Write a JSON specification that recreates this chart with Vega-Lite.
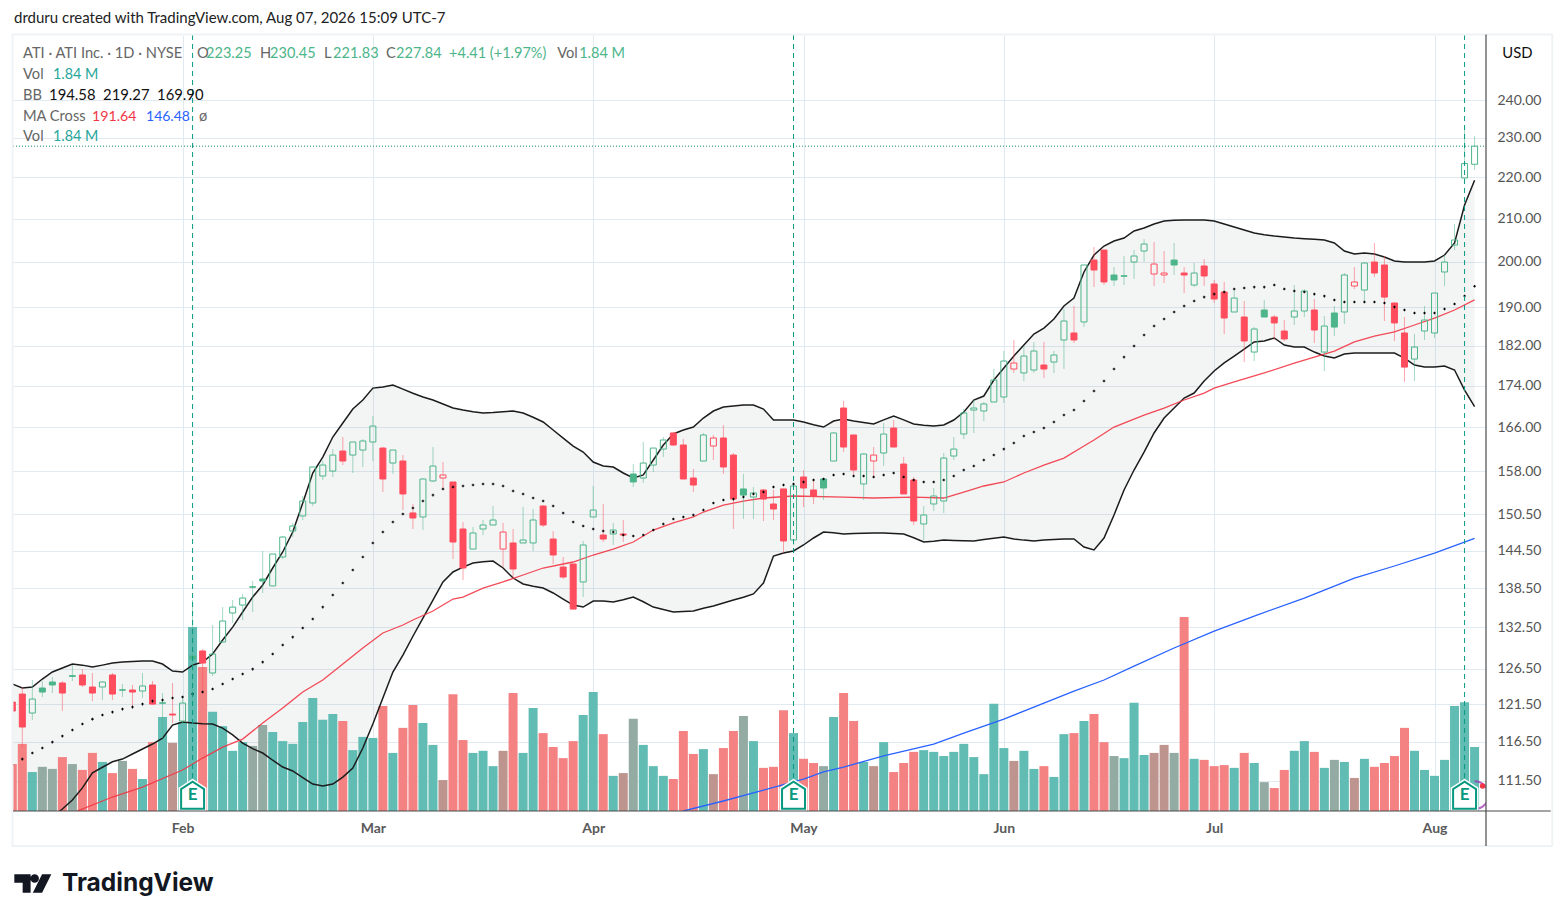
{
"$schema":"https://vega.github.io/schema/vega-lite/v6.json",
"width":1473,"height":776,
"autosize":{"type":"none"},
"padding":{"left":13,"top":35,"right":78,"bottom":110},
"background":"#ffffff",
"config":{"view":{"stroke":null},"font":"Lato"},
"datasets":{
"days":[
{"i":-1,"o":121.83,"h":122.1,"l":120.06,"c":120.6,"d":"down","v":1.35,"s":"down","m":113.48,"u":124.33,"b":102.6},
{"i":0,"o":122.93,"h":123.91,"l":115.68,"c":118.45,"d":"down","v":1.93,"s":"down","m":114.25,"u":123.77,"b":103.6},
{"i":1,"o":120.33,"h":124.89,"l":119.38,"c":122.24,"d":"up","v":1.12,"s":"up","m":115.03,"u":123.91,"b":104.67},
{"i":2,"o":123.77,"h":124.75,"l":122.52,"c":123.21,"d":"up","v":1.27,"s":"up_thin","m":115.68,"u":125.03,"b":105.8},
{"i":3,"o":124.61,"h":125.31,"l":123.07,"c":124.19,"d":"up","v":1.21,"s":"up_thin","m":116.46,"u":126.02,"b":107},
{"i":4,"o":124.47,"h":124.75,"l":120.6,"c":123.07,"d":"down","v":1.55,"s":"down","m":117.25,"u":126.58,"b":108},
{"i":5,"o":125.5,"h":127,"l":124.75,"c":125.4,"d":"up","v":1.35,"s":"up_thin","m":118.05,"u":127.16,"b":109.1},
{"i":6,"o":125.6,"h":126.44,"l":123.91,"c":124.19,"d":"down","v":1.18,"s":"down","m":118.85,"u":127,"b":110.6},
{"i":7,"o":123.91,"h":125.88,"l":121.96,"c":123.07,"d":"down","v":1.67,"s":"down","m":119.51,"u":126.72,"b":112.48},
{"i":8,"o":123.91,"h":124.75,"l":122.1,"c":124.61,"d":"up","v":1.41,"s":"up","m":120.06,"u":127,"b":113.2},
{"i":9,"o":125.6,"h":125.88,"l":122.1,"c":122.93,"d":"down","v":1.09,"s":"down","m":120.46,"u":127.3,"b":113.9},
{"i":10,"o":123.52,"h":124.33,"l":122.52,"c":123.47,"d":"up","v":1.44,"s":"up_thin","m":120.87,"u":127.44,"b":114.25},
{"i":11,"o":123.49,"h":124.19,"l":121,"c":123.21,"d":"down","v":1.21,"s":"down","m":121.14,"u":127.52,"b":114.9},
{"i":12,"o":123.35,"h":125.88,"l":122.38,"c":124.05,"d":"up","v":0.92,"s":"up","m":121.55,"u":127.59,"b":115.55},
{"i":13,"o":124.19,"h":124.75,"l":121.42,"c":121.55,"d":"down","v":1.98,"s":"down","m":121.96,"u":127.59,"b":116.2},
{"i":14,"o":121.72,"h":123.07,"l":116.98,"c":121.67,"d":"up","v":2.7,"s":"up","m":122.1,"u":127.16,"b":116.98},
{"i":15,"o":120.19,"h":124.47,"l":118.98,"c":120.06,"d":"down","v":1.96,"s":"down_thin","m":122.38,"u":126.16,"b":118.7},
{"i":16,"o":119.25,"h":122.52,"l":118.85,"c":121.69,"d":"up","v":2.56,"s":"up","m":122.52,"u":126.02,"b":119.12},
{"i":17,"o":128.3,"h":136.66,"l":122.1,"c":127.87,"d":"up","v":5.29,"s":"up","m":122.93,"u":127,"b":118.98},
{"i":18,"o":129.04,"h":129.33,"l":123.07,"c":127.3,"d":"down","v":4.14,"s":"down","m":123.21,"u":127.44,"b":118.9},
{"i":19,"o":125.88,"h":132.87,"l":125.45,"c":128.6,"d":"up","v":2.85,"s":"up","m":123.63,"u":128.6,"b":118.85},
{"i":20,"o":130.35,"h":135.58,"l":130.35,"c":133.47,"d":"up","v":2.44,"s":"up","m":124.33,"u":130.64,"b":118.31},
{"i":21,"o":134.68,"h":136.66,"l":133.17,"c":135.58,"d":"up","v":1.73,"s":"up","m":125.03,"u":132.56,"b":117.4},
{"i":22,"o":135.89,"h":137.6,"l":133.62,"c":136.97,"d":"up","v":1.98,"s":"up","m":125.74,"u":134.83,"b":116.33},
{"i":23,"o":138.72,"h":139.62,"l":134.83,"c":138.64,"d":"up","v":1.87,"s":"up_thin","m":126.44,"u":137.12,"b":115.6},
{"i":24,"o":139.94,"h":144.42,"l":137.75,"c":139.62,"d":"up","v":2.47,"s":"up_thin","m":127.44,"u":139,"b":115.03},
{"i":25,"o":138.85,"h":143.93,"l":138.85,"c":143.93,"d":"up","v":2.27,"s":"up","m":128.6,"u":141.68,"b":114.1},
{"i":26,"o":143.45,"h":146.88,"l":143.12,"c":146.71,"d":"up","v":2.01,"s":"up","m":129.91,"u":144.26,"b":113.23},
{"i":27,"o":147.71,"h":149.05,"l":146.71,"c":148.54,"d":"up","v":1.93,"s":"up","m":131.08,"u":147.54,"b":112.73},
{"i":28,"o":150.23,"h":153.63,"l":149.55,"c":152.78,"d":"up","v":2.56,"s":"up","m":132.42,"u":152.44,"b":111.9},
{"i":29,"o":152.44,"h":158.75,"l":151.92,"c":158.75,"d":"up","v":3.25,"s":"up","m":133.77,"u":157.68,"b":111.08},
{"i":30,"o":157.15,"h":159.82,"l":156.44,"c":159.1,"d":"up","v":2.62,"s":"up","m":135.58,"u":160.54,"b":110.83},
{"i":31,"o":158.03,"h":161.99,"l":156.97,"c":160.9,"d":"up","v":2.79,"s":"up","m":137.43,"u":164.2,"b":111.08},
{"i":32,"o":161.63,"h":164.2,"l":159.1,"c":159.82,"d":"down","v":2.59,"s":"down","m":139.31,"u":166.81,"b":111.96},
{"i":33,"o":160.9,"h":163.28,"l":157.68,"c":163.28,"d":"up","v":1.75,"s":"up","m":141.36,"u":169.46,"b":113.1},
{"i":34,"o":161.81,"h":163.83,"l":158.75,"c":163.47,"d":"up","v":2.13,"s":"up","m":143.45,"u":171.19,"b":115.68},
{"i":35,"o":163.28,"h":168.12,"l":159.82,"c":166.25,"d":"up","v":2.1,"s":"up","m":145.73,"u":173.5,"b":118.85},
{"i":36,"o":162.17,"h":162.36,"l":154.34,"c":156.62,"d":"down","v":3.02,"s":"down","m":147.54,"u":173.7,"b":122.38},
{"i":37,"o":159.46,"h":161.81,"l":157.5,"c":161.81,"d":"up","v":1.67,"s":"up","m":149.21,"u":174.1,"b":126.02},
{"i":38,"o":159.82,"h":160.9,"l":151.24,"c":154,"d":"down","v":2.39,"s":"down","m":150.57,"u":173.31,"b":128.45},
{"i":39,"o":150.74,"h":152.27,"l":148.04,"c":149.89,"d":"down","v":3.05,"s":"down","m":151.58,"u":172.5,"b":131.2},
{"i":40,"o":150.06,"h":156.79,"l":147.87,"c":156.62,"d":"up","v":2.53,"s":"up","m":152.78,"u":171.77,"b":133.92},
{"i":41,"o":156.27,"h":162.36,"l":156.09,"c":158.92,"d":"up","v":1.9,"s":"up","m":153.81,"u":171.19,"b":136.66},
{"i":42,"o":156.79,"h":159.64,"l":154.69,"c":157.33,"d":"down","v":0.89,"s":"down_thin","m":154.87,"u":170.43,"b":139.47},
{"i":43,"o":156.09,"h":156.09,"l":143.12,"c":145.89,"d":"down","v":3.36,"s":"down","m":155.21,"u":169.65,"b":141.05},
{"i":44,"o":148.04,"h":149.21,"l":139.78,"c":141.68,"d":"down","v":2.04,"s":"down","m":155.39,"u":169.27,"b":141.83},
{"i":45,"o":144.74,"h":148.37,"l":144.74,"c":147.38,"d":"up","v":1.67,"s":"up","m":155.56,"u":168.95,"b":142.48},
{"i":46,"o":148.04,"h":149.55,"l":147.04,"c":148.71,"d":"up","v":1.73,"s":"up","m":155.74,"u":168.7,"b":142.7},
{"i":47,"o":148.71,"h":151.92,"l":148.71,"c":149.55,"d":"up","v":1.29,"s":"up","m":155.74,"u":168.8,"b":142.8},
{"i":48,"o":144.74,"h":149.05,"l":141.83,"c":147.54,"d":"down","v":1.73,"s":"down_thin","m":155.39,"u":168.95,"b":141.68},
{"i":49,"o":145.73,"h":148.04,"l":140.09,"c":141.52,"d":"down","v":3.39,"s":"down","m":154.52,"u":169.08,"b":140.09},
{"i":50,"o":145.73,"h":151.75,"l":145.73,"c":146.22,"d":"up","v":1.67,"s":"up","m":154,"u":168.7,"b":139.15},
{"i":51,"o":145.73,"h":151.41,"l":144.42,"c":149.55,"d":"up","v":2.96,"s":"up","m":153.3,"u":167.9,"b":138.8},
{"i":52,"o":151.92,"h":152.09,"l":148.37,"c":148.71,"d":"down","v":2.24,"s":"down","m":152.78,"u":167,"b":138.52},
{"i":53,"o":146.38,"h":147.71,"l":142.32,"c":143.77,"d":"down","v":1.84,"s":"down","m":151.92,"u":165.5,"b":137.75},
{"i":54,"o":141.83,"h":143.45,"l":139.94,"c":140.25,"d":"down","v":1.52,"s":"down","m":150.74,"u":164,"b":136.8},
{"i":55,"o":142.32,"h":142.32,"l":135.28,"c":135.28,"d":"down","v":2.01,"s":"down","m":149.21,"u":162.54,"b":135.89},
{"i":56,"o":139.47,"h":146.06,"l":137.12,"c":145.4,"d":"up","v":2.76,"s":"up","m":148.54,"u":161.45,"b":135.58},
{"i":57,"o":150.06,"h":155.39,"l":150.06,"c":151.24,"d":"up","v":3.42,"s":"up","m":148.04,"u":159.64,"b":136.5},
{"i":58,"o":147.04,"h":152.27,"l":145.89,"c":146.38,"d":"down","v":2.21,"s":"down","m":147.71,"u":158.92,"b":136.5},
{"i":59,"o":147.21,"h":149.05,"l":145.4,"c":147.87,"d":"up","v":1.01,"s":"up","m":147.54,"u":158.75,"b":136.35},
{"i":60,"o":147.21,"h":149.55,"l":145.89,"c":147.04,"d":"down","v":1.09,"s":"down_thin","m":147.04,"u":157.68,"b":136.7},
{"i":61,"o":157.5,"h":159.28,"l":155.21,"c":156.09,"d":"up","v":2.65,"s":"up_thin","m":146.88,"u":156.79,"b":137.12},
{"i":62,"o":156.79,"h":163.28,"l":155.92,"c":159.46,"d":"up","v":1.9,"s":"up","m":147.04,"u":157.33,"b":136.4},
{"i":63,"o":159.1,"h":162.17,"l":157.86,"c":162.17,"d":"up","v":1.29,"s":"up","m":147.87,"u":160,"b":135.58},
{"i":64,"o":161.99,"h":164.2,"l":160.54,"c":163.65,"d":"up","v":1.01,"s":"up","m":148.88,"u":162.73,"b":135.2},
{"i":65,"o":164.95,"h":165.13,"l":162.54,"c":162.73,"d":"down","v":0.92,"s":"down","m":149.72,"u":164.76,"b":134.83},
{"i":66,"o":162.73,"h":163.83,"l":156.62,"c":156.62,"d":"down","v":2.3,"s":"down","m":150.06,"u":165.5,"b":134.9},
{"i":67,"o":156.79,"h":158.39,"l":154.34,"c":155.56,"d":"down","v":1.64,"s":"down","m":150.4,"u":166.06,"b":134.98},
{"i":68,"o":159.82,"h":164.95,"l":159.82,"c":164.58,"d":"up","v":1.78,"s":"up","m":151.24,"u":167.75,"b":135.4},
{"i":69,"o":162.54,"h":164.58,"l":160,"c":164.02,"d":"down","v":1.06,"s":"down_thin","m":152.44,"u":169.08,"b":135.74},
{"i":70,"o":164.02,"h":166.43,"l":157.5,"c":158.75,"d":"down","v":1.81,"s":"down","m":152.95,"u":169.84,"b":136.2},
{"i":71,"o":160.9,"h":161.27,"l":148.04,"c":153.12,"d":"down","v":2.3,"s":"down","m":153.12,"u":170.03,"b":136.66},
{"i":72,"o":154.87,"h":157.5,"l":149.72,"c":153.81,"d":"up","v":2.73,"s":"up_thin","m":153.47,"u":170.23,"b":137.1},
{"i":73,"o":153.47,"h":155.21,"l":149.72,"c":154.17,"d":"up","v":2.01,"s":"up","m":154,"u":170.23,"b":137.6},
{"i":74,"o":154.69,"h":154.87,"l":149.38,"c":153.12,"d":"down","v":1.24,"s":"down","m":154.34,"u":169.46,"b":139.31},
{"i":75,"o":152.27,"h":154.69,"l":149.55,"c":151.41,"d":"down","v":1.27,"s":"down","m":155.21,"u":167.37,"b":143.61},
{"i":76,"o":154.87,"h":154.87,"l":144.09,"c":146.06,"d":"down","v":2.9,"s":"down","m":155.56,"u":167.37,"b":144.1},
{"i":77,"o":146.22,"h":155.74,"l":145.4,"c":155.39,"d":"up","v":2.24,"s":"up","m":155.74,"u":167.37,"b":144.42},
{"i":78,"o":156.97,"h":158.21,"l":151.75,"c":155.04,"d":"down","v":1.5,"s":"down","m":156.09,"u":167,"b":145.4},
{"i":79,"o":154.69,"h":156.62,"l":152.27,"c":153.65,"d":"down","v":1.38,"s":"down","m":156.44,"u":166.5,"b":146.55},
{"i":80,"o":156.62,"h":156.79,"l":152.95,"c":155.04,"d":"up","v":1.29,"s":"up_thin","m":156.62,"u":166.06,"b":147.54},
{"i":81,"o":159.82,"h":165.13,"l":159.82,"c":164.95,"d":"up","v":2.7,"s":"up","m":157.33,"u":167.18,"b":147.4},
{"i":82,"o":169.65,"h":171,"l":161.45,"c":162.36,"d":"down","v":3.39,"s":"down","m":157.5,"u":167.56,"b":147.21},
{"i":83,"o":164.58,"h":164.58,"l":157.33,"c":158.21,"d":"down","v":2.59,"s":"down","m":157.15,"u":167.2,"b":147.3},
{"i":84,"o":155.74,"h":161.27,"l":152.95,"c":161.09,"d":"up","v":1.41,"s":"up","m":157.15,"u":166.9,"b":147.35},
{"i":85,"o":159.82,"h":162.36,"l":156.79,"c":160.9,"d":"down","v":1.29,"s":"down_thin","m":156.97,"u":166.62,"b":147.38},
{"i":86,"o":161.27,"h":166.81,"l":158.92,"c":164.76,"d":"up","v":1.98,"s":"up","m":157.33,"u":167.4,"b":147.38},
{"i":87,"o":165.87,"h":167.37,"l":162.36,"c":162.36,"d":"down","v":1.12,"s":"down","m":157.68,"u":168.12,"b":147.3},
{"i":88,"o":159.28,"h":160.54,"l":154,"c":154,"d":"down","v":1.38,"s":"down","m":156.97,"u":167.4,"b":147.21},
{"i":89,"o":156.44,"h":156.97,"l":148.71,"c":149.38,"d":"down","v":1.7,"s":"down","m":156.44,"u":166.62,"b":146.6},
{"i":90,"o":148.88,"h":151.92,"l":146.22,"c":150.4,"d":"up","v":1.75,"s":"up","m":156.09,"u":166.4,"b":145.89},
{"i":91,"o":152.27,"h":155.04,"l":151.07,"c":153.65,"d":"up","v":1.7,"s":"up","m":156.09,"u":166.25,"b":146},
{"i":92,"o":152.78,"h":161.27,"l":150.74,"c":160.36,"d":"up","v":1.58,"s":"up","m":156.44,"u":166.43,"b":146.22},
{"i":93,"o":160.72,"h":164.2,"l":160,"c":161.99,"d":"up","v":1.7,"s":"up","m":157.15,"u":167.37,"b":146.15},
{"i":94,"o":164.76,"h":169.46,"l":163.83,"c":168.7,"d":"up","v":1.93,"s":"up","m":158.21,"u":168.89,"b":146.1},
{"i":95,"o":169.27,"h":171.19,"l":164.95,"c":169.65,"d":"up","v":1.55,"s":"up","m":158.92,"u":171.19,"b":146.06},
{"i":96,"o":169.08,"h":170.81,"l":167.18,"c":170.43,"d":"up","v":1.06,"s":"up","m":160,"u":171.96,"b":146.3},
{"i":97,"o":170.81,"h":177.27,"l":170.81,"c":175.09,"d":"up","v":3.08,"s":"up","m":160.9,"u":175.09,"b":146.5},
{"i":98,"o":171.77,"h":180.9,"l":170.62,"c":178.87,"d":"up","v":1.81,"s":"up","m":161.99,"u":177.47,"b":146.71},
{"i":99,"o":177.27,"h":183.16,"l":176.48,"c":178.47,"d":"down","v":1.44,"s":"down_thin","m":163.1,"u":179.88,"b":146.4},
{"i":100,"o":176.48,"h":181.92,"l":174.89,"c":179.88,"d":"up","v":1.73,"s":"up","m":164.39,"u":182.13,"b":146.2},
{"i":101,"o":177.07,"h":182.74,"l":176.48,"c":180.9,"d":"up","v":1.21,"s":"up","m":165.13,"u":184.4,"b":146.06},
{"i":102,"o":178.07,"h":182.74,"l":175.49,"c":177.27,"d":"down","v":1.29,"s":"down","m":165.87,"u":185.64,"b":146.2},
{"i":103,"o":178.67,"h":180.9,"l":176.48,"c":180.09,"d":"up","v":0.98,"s":"up","m":167,"u":187.54,"b":146.3},
{"i":104,"o":183.16,"h":189.66,"l":177.27,"c":187.12,"d":"up","v":2.21,"s":"up","m":168.32,"u":190.31,"b":146.38},
{"i":105,"o":184.61,"h":190.31,"l":182.54,"c":183.16,"d":"down","v":2.24,"s":"down","m":169.27,"u":192.02,"b":146.38},
{"i":106,"o":186.91,"h":199.3,"l":185.85,"c":199.3,"d":"up","v":2.59,"s":"up","m":171,"u":197.74,"b":145.07},
{"i":107,"o":200.42,"h":203.37,"l":194.41,"c":198.18,"d":"down","v":2.79,"s":"down","m":172.93,"u":201.55,"b":144.58},
{"i":108,"o":202.69,"h":202.69,"l":194.86,"c":195.52,"d":"down","v":1.98,"s":"down","m":174.89,"u":203.6,"b":146.55},
{"i":109,"o":197.07,"h":198.85,"l":194.64,"c":195.96,"d":"up","v":1.58,"s":"up_thin","m":177.27,"u":204.76,"b":150.4},
{"i":110,"o":196.9,"h":201.33,"l":194.86,"c":196.8,"d":"up","v":1.52,"s":"up","m":179.67,"u":205.45,"b":154.69},
{"i":111,"o":199.97,"h":202.69,"l":196.18,"c":201.33,"d":"up","v":3.11,"s":"up","m":181.92,"u":207.08,"b":158.21},
{"i":112,"o":202.46,"h":205.22,"l":199.97,"c":204.07,"d":"up","v":1.61,"s":"up","m":184.2,"u":207.77,"b":161.45},
{"i":113,"o":197.29,"h":204.53,"l":194.64,"c":199.52,"d":"down","v":1.67,"s":"down_thin","m":186.06,"u":208.72,"b":164.95},
{"i":114,"o":197.07,"h":202.46,"l":195.3,"c":197.51,"d":"down","v":1.9,"s":"down_thin","m":187.54,"u":209.43,"b":167.75},
{"i":115,"o":200.42,"h":204.3,"l":197.07,"c":199.3,"d":"up","v":1.67,"s":"up_thin","m":189.03,"u":209.6,"b":169.65},
{"i":116,"o":197.51,"h":198.85,"l":193.11,"c":197.07,"d":"down","v":5.58,"s":"down","m":190.31,"u":209.66,"b":171.57},
{"i":117,"o":194.86,"h":199.75,"l":194.41,"c":197.51,"d":"up","v":1.5,"s":"up","m":191.38,"u":209.66,"b":172.54},
{"i":118,"o":199.08,"h":200.64,"l":194.64,"c":196.85,"d":"down","v":1.47,"s":"down","m":192.23,"u":209.66,"b":174.89},
{"i":119,"o":195.08,"h":195.96,"l":190.95,"c":191.81,"d":"down","v":1.29,"s":"down","m":192.88,"u":209.43,"b":176.87},
{"i":120,"o":193.33,"h":195.52,"l":184.4,"c":187.75,"d":"down","v":1.32,"s":"down","m":193.33,"u":208.72,"b":178.5},
{"i":121,"o":189.03,"h":193.76,"l":189.03,"c":192.02,"d":"up","v":1.24,"s":"up","m":193.98,"u":208,"b":179.88},
{"i":122,"o":187.96,"h":191.38,"l":178.67,"c":182.95,"d":"down","v":1.67,"s":"down","m":194.2,"u":207.31,"b":181.3},
{"i":123,"o":180.69,"h":185.85,"l":178.87,"c":185.44,"d":"up","v":1.38,"s":"up","m":194.41,"u":206.61,"b":182.75},
{"i":124,"o":189.45,"h":191.59,"l":187.96,"c":187.96,"d":"up","v":0.83,"s":"up_thin","m":194.41,"u":206.2,"b":182.95},
{"i":125,"o":187.96,"h":188.39,"l":183.16,"c":186.71,"d":"down","v":0.66,"s":"down","m":194.86,"u":205.91,"b":183.58},
{"i":126,"o":185.02,"h":187.33,"l":182.95,"c":183.37,"d":"down","v":1.18,"s":"down","m":193.98,"u":205.7,"b":182.13},
{"i":127,"o":187.96,"h":194.86,"l":186.28,"c":189.24,"d":"up","v":1.73,"s":"up","m":193.54,"u":205.45,"b":181.71},
{"i":128,"o":189.24,"h":193.98,"l":187.96,"c":193.54,"d":"up","v":2.01,"s":"up","m":193.33,"u":205.3,"b":181.71},
{"i":129,"o":189.45,"h":191.81,"l":182.54,"c":185.23,"d":"down","v":1.7,"s":"down","m":192.88,"u":205.15,"b":180.69},
{"i":130,"o":180.69,"h":188.17,"l":176.87,"c":186.06,"d":"up","v":1.24,"s":"up","m":192.45,"u":204.99,"b":179.88},
{"i":131,"o":188.81,"h":190.31,"l":183.98,"c":185.85,"d":"up","v":1.47,"s":"up_thin","m":191.59,"u":204.3,"b":179.47},
{"i":132,"o":189.03,"h":197.51,"l":186.49,"c":197.07,"d":"up","v":1.41,"s":"up","m":191.17,"u":202.46,"b":180.29},
{"i":133,"o":194.64,"h":198.85,"l":193.98,"c":195.52,"d":"down","v":0.95,"s":"down_thin","m":191.17,"u":201.78,"b":180.49},
{"i":134,"o":193.76,"h":199.97,"l":191.17,"c":199.75,"d":"up","v":1.5,"s":"up","m":191.17,"u":202,"b":180.49},
{"i":135,"o":199.97,"h":204.3,"l":196.63,"c":197.51,"d":"down","v":1.27,"s":"down","m":191.17,"u":201.78,"b":180.49},
{"i":136,"o":199.3,"h":201.33,"l":187.12,"c":192.23,"d":"down","v":1.38,"s":"down","m":190.95,"u":201.1,"b":180.49},
{"i":137,"o":190.95,"h":190.95,"l":182.95,"c":186.71,"d":"down","v":1.58,"s":"down","m":190.09,"u":200.2,"b":180.49},
{"i":138,"o":184.61,"h":187.96,"l":174.7,"c":177.66,"d":"down","v":2.39,"s":"down","m":189.45,"u":200,"b":179.47},
{"i":139,"o":179.27,"h":184.4,"l":174.89,"c":181.71,"d":"up","v":1.73,"s":"up","m":188.81,"u":199.97,"b":178.07},
{"i":140,"o":185.02,"h":190.31,"l":183.16,"c":187.33,"d":"up","v":1.18,"s":"up","m":188.81,"u":200,"b":177.66},
{"i":141,"o":184.61,"h":193.11,"l":183.58,"c":193.11,"d":"up","v":1.01,"s":"up","m":188.81,"u":200.2,"b":177.66},
{"i":142,"o":197.74,"h":201.55,"l":194.64,"c":199.97,"d":"up","v":1.47,"s":"up","m":189.66,"u":201.55,"b":177.86},
{"i":143,"o":203.84,"h":208.72,"l":202.69,"c":204.99,"d":"up","v":3.02,"s":"up","m":190.74,"u":204.3,"b":177.07},
{"i":144,"o":219.82,"h":232.83,"l":219.32,"c":223.43,"d":"up","v":3.13,"s":"up","m":192.45,"u":213.23,"b":173.12},
{"i":145,"o":223.25,"h":230.45,"l":221.83,"c":227.84,"d":"up","v":1.84,"s":"up","m":194.58,"u":219.27,"b":169.9}
],
"ma50":[
{"i":5,"p":107.52},{"i":9,"p":109.47},{"i":12,"p":110.7},{"i":16,"p":112.85},{"i":18,"p":114.38},{"i":20,"p":115.8},{"i":22,"p":116.85},{"i":24,"p":118.98},{"i":26,"p":121},{"i":28,"p":123.21},{"i":30,"p":124.89},{"i":32,"p":127.16},{"i":34,"p":129.47},{"i":36,"p":131.68},{"i":38,"p":132.87},{"i":39,"p":133.62},{"i":41,"p":134.98},{"i":42,"p":135.89},{"i":43,"p":136.81},{"i":44,"p":137.12},{"i":46,"p":138.52},{"i":48,"p":139.47},{"i":50,"p":140.57},{"i":52,"p":141.68},{"i":54,"p":142.32},{"i":55,"p":142.64},{"i":57,"p":143.77},{"i":59,"p":144.74},{"i":61,"p":145.89},{"i":63,"p":147.87},{"i":65,"p":149.05},{"i":67,"p":150.06},{"i":68,"p":150.9},{"i":70,"p":152.09},{"i":72,"p":152.78},{"i":74,"p":153.3},{"i":77,"p":153.65},{"i":82,"p":153.47},{"i":85,"p":153.3},{"i":89,"p":153.47},{"i":92,"p":153.3},{"i":94,"p":154.34},{"i":96,"p":155.39},{"i":98,"p":156.09},{"i":100,"p":157.68},{"i":102,"p":159.1},{"i":104,"p":160.36},{"i":106,"p":162.54},{"i":107,"p":163.65},{"i":109,"p":166.06},{"i":112,"p":168.31},{"i":114,"p":169.65},{"i":116,"p":171.19},{"i":118,"p":172.54},{"i":119,"p":173.5},{"i":121,"p":174.7},{"i":124,"p":176.48},{"i":127,"p":178.47},{"i":129,"p":179.67},{"i":131,"p":180.9},{"i":133,"p":182.75},{"i":135,"p":183.98},{"i":137,"p":184.82},{"i":139,"p":186.28},{"i":141,"p":187.75},{"i":143,"p":189.45},{"i":145,"p":191.64}
],
"ma200":[
{"i":66,"p":107.76},{"i":70,"p":108.98},{"i":74,"p":110.33},{"i":78,"p":111.7},{"i":80,"p":112.6},{"i":82,"p":113.23},{"i":86,"p":114.65},{"i":91,"p":116.2},{"i":94,"p":117.65},{"i":98,"p":119.51},{"i":102,"p":121.69},{"i":105,"p":123.35},{"i":108,"p":124.89},{"i":111,"p":126.87},{"i":115,"p":129.47},{"i":119,"p":131.97},{"i":123,"p":134.22},{"i":128,"p":136.97},{"i":133,"p":140.09},{"i":137,"p":142},{"i":141,"p":144.09},{"i":145,"p":146.48}
],
"earnings":[{"i":17,"p":109.7},{"i":77,"p":109.7},{"i":144,"p":109.7}],
"labels":[
{"i":-0.83,"p":263.2,"t":"drduru created with TradingView.com, Aug 07, 2026 15:09 UTC-7","k":"head"},
{"i":0.07,"p":252.76,"t":"ATI · ATI Inc. · 1D · NYSE","k":"muted"},
{"i":17.45,"p":252.76,"t":"O","k":"muted"},{"i":18.35,"p":252.76,"t":"223.25","k":"up"},
{"i":23.74,"p":252.76,"t":"H","k":"muted"},{"i":24.74,"p":252.76,"t":"230.45","k":"up"},
{"i":30.13,"p":252.76,"t":"L","k":"muted"},{"i":31.03,"p":252.76,"t":"221.83","k":"up"},
{"i":36.32,"p":252.76,"t":"C","k":"muted"},{"i":37.32,"p":252.76,"t":"227.84","k":"up"},
{"i":42.61,"p":252.76,"t":"+4.41 (+1.97%)","k":"up"},
{"i":53.4,"p":252.76,"t":"Vol","k":"muted"},{"i":55.6,"p":252.76,"t":"1.84 M","k":"up"},
{"i":0.07,"p":246.8,"t":"Vol","k":"muted"},{"i":3.07,"p":246.8,"t":"1.84 M","k":"vol"},
{"i":0.07,"p":241.1,"t":"BB","k":"muted"},{"i":2.67,"p":241.1,"t":"194.58","k":"ink"},{"i":8.06,"p":241.1,"t":"219.27","k":"ink"},{"i":13.45,"p":241.1,"t":"169.90","k":"ink"},
{"i":0.07,"p":235.5,"t":"MA Cross","k":"muted"},{"i":6.96,"p":235.5,"t":"191.64","k":"ma50"},{"i":12.35,"p":235.5,"t":"146.48","k":"ma200"},{"i":17.65,"p":235.5,"t":"ø","k":"muted"},
{"i":0.07,"p":230.2,"t":"Vol","k":"muted"},{"i":3.07,"p":230.2,"t":"1.84 M","k":"vol"},
{"i":147.76,"p":252.76,"t":"USD","k":"ink"}
]
},
"encoding":{
"x":{"field":"i","type":"quantitative","scale":{"domain":[-0.93,146.14],"nice":false,"zero":false,"padding":0},
"axis":{"title":null,"values":[16,35,57,78,98,119,141],"labelExpr":"{'16':'Feb','35':'Mar','57':'Apr','78':'May','98':'Jun','119':'Jul','141':'Aug'}[datum.value+'']","grid":true,"gridColor":"#e2eaf1","gridWidth":1,"domain":false,"ticks":false,"labelPadding":10,"labelFontSize":14,"labelFontWeight":"bold","labelColor":"#5a5a5a","labelFlush":false,"labelFont":"Lato"}}
},
"layer":[
{"data":{"name":"days"},"mark":{"type":"area","clip":true,"color":"#4f5f55","opacity":0.065,"orient":"vertical"},
"encoding":{"y":{"field":"u","type":"quantitative","scale":{"type":"log","domain":[107.76,258.23],"nice":false},
"axis":{"title":null,"orient":"right","values":[240,230,220,210,200,190,182,174,166,158,150.5,144.5,138.5,132.5,126.5,121.5,116.5,111.5],"format":".2f","grid":true,"gridColor":"#e2eaf1","gridWidth":1,"domain":false,"ticks":false,"labelPadding":11,"labelFontSize":14,"labelColor":"#555555","labelFont":"Lato"}},"y2":{"field":"b"}}},
{"data":{"name":"days"},"mark":{"type":"bar","size":9,"orient":"vertical","clip":true,"opacity":0.97},
"encoding":{"y":{"field":"v","type":"quantitative","scale":{"domain":[0,22.31],"nice":false},"axis":null},
"color":{"field":"s","type":"nominal","scale":{"domain":["up","down","up_thin","down_thin"],"range":["#5cbab2","#f57e7e","#8fa8a0","#bc918b"]},"legend":null}}},
{"layer":[
{"data":{"values":[{"i":-0.93,"i2":146.14,"p":227.84}]},"mark":{"type":"rule","color":"#1f8f76","strokeDash":[1,2],"strokeWidth":1},
"encoding":{"x2":{"field":"i2"},"y":{"field":"p","type":"quantitative","scale":{"type":"log","domain":[107.76,258.23],"nice":false},"axis":null}}},
{"data":{"name":"days"},"mark":{"type":"line","clip":true,"color":"#1c1c1c","strokeWidth":1.5},
"encoding":{"y":{"field":"u","type":"quantitative","scale":{"type":"log","domain":[107.76,258.23],"nice":false},"axis":null}}},
{"data":{"name":"days"},"mark":{"type":"line","clip":true,"color":"#1c1c1c","strokeWidth":1.5},
"encoding":{"y":{"field":"b","type":"quantitative","scale":{"type":"log","domain":[107.76,258.23],"nice":false},"axis":null}}},
{"data":{"name":"ma50"},"mark":{"type":"line","clip":true,"color":"#f23645","strokeWidth":1.3,"opacity":0.9},
"encoding":{"y":{"field":"p","type":"quantitative","scale":{"type":"log","domain":[107.76,258.23],"nice":false},"axis":null}}},
{"data":{"name":"ma200"},"mark":{"type":"line","clip":true,"color":"#2962ff","strokeWidth":1.3},
"encoding":{"y":{"field":"p","type":"quantitative","scale":{"type":"log","domain":[107.76,258.23],"nice":false},"axis":null}}},
{"data":{"name":"days"},"mark":{"type":"rule","clip":true,"strokeWidth":1,"opacity":0.5},
"encoding":{"y":{"field":"h","type":"quantitative","scale":{"type":"log","domain":[107.76,258.23],"nice":false},"axis":null},"y2":{"field":"c"},
"stroke":{"field":"d","type":"nominal","scale":{"domain":["up","down"],"range":["#4cb58a","#ff4d5e"]},"legend":null}}},
{"data":{"name":"days"},"mark":{"type":"rule","clip":true,"strokeWidth":1,"opacity":0.5},
"encoding":{"y":{"field":"l","type":"quantitative","scale":{"type":"log","domain":[107.76,258.23],"nice":false},"axis":null},"y2":{"field":"o"},
"stroke":{"field":"d","type":"nominal","scale":{"domain":["up","down"],"range":["#4cb58a","#ff4d5e"]},"legend":null}}},
{"data":{"name":"days"},"mark":{"type":"bar","clip":true,"size":6,"strokeWidth":1},
"encoding":{"y":{"field":"o","type":"quantitative","scale":{"type":"log","domain":[107.76,258.23],"nice":false},"axis":null},"y2":{"field":"c"},
"stroke":{"field":"d","type":"nominal","scale":{"domain":["up","down"],"range":["#4cb58a","#ff4d5e"]},"legend":null},
"fill":{"condition":{"test":"datum.c>=datum.o","value":"transparent"},"field":"d","type":"nominal","scale":{"domain":["up","down"],"range":["#4cb58a","#ff4d5e"]},"legend":null}}},
{"data":{"name":"days"},"mark":{"type":"point","clip":true,"shape":"cross","filled":true,"color":"#000000","size":7,"opacity":1},
"encoding":{"y":{"field":"m","type":"quantitative","scale":{"type":"log","domain":[107.76,258.23],"nice":false},"axis":null}}},
{"data":{"name":"earnings"},"mark":{"type":"rule","color":"#089981","strokeDash":[5,4],"strokeWidth":1},"encoding":{}},
{"data":{"values":[{"i":145,"p":109.7}]},"mark":{"type":"point","clip":true,"shape":"M0,-1 A1,1 0 0 1 0,1","stroke":"#9c27b0","strokeWidth":2,"size":784,"fill":null},
"encoding":{"y":{"field":"p","type":"quantitative","scale":{"type":"log","domain":[107.76,258.23],"nice":false},"axis":null}}},
{"data":{"values":[{"i":145.8,"p":110.83}]},"mark":{"type":"point","clip":true,"shape":"circle","filled":true,"color":"#f23645","size":30,"opacity":1},
"encoding":{"y":{"field":"p","type":"quantitative","scale":{"type":"log","domain":[107.76,258.23],"nice":false},"axis":null}}},
{"data":{"name":"earnings"},"mark":{"type":"point","shape":"M-0.85,-0.45 L0,-1 L0.85,-0.45 L0.85,1 L-0.85,1 Z","fill":"#ffffff","stroke":"#ffffff","strokeWidth":5,"size":729,"opacity":1},
"encoding":{"y":{"field":"p","type":"quantitative","scale":{"type":"log","domain":[107.76,258.23],"nice":false},"axis":null}}},
{"data":{"name":"earnings"},"mark":{"type":"point","shape":"M-0.85,-0.45 L0,-1 L0.85,-0.45 L0.85,1 L-0.85,1 Z","fill":"#ffffff","stroke":"#089981","strokeWidth":2,"size":729,"opacity":1},
"encoding":{"y":{"field":"p","type":"quantitative","scale":{"type":"log","domain":[107.76,258.23],"nice":false},"axis":null}}},
{"data":{"name":"earnings"},"mark":{"type":"text","text":"E","font":"Lato","fontWeight":"bold","fontSize":17,"color":"#089981","baseline":"middle","align":"center"},
"encoding":{"y":{"field":"p","type":"quantitative","scale":{"type":"log","domain":[107.76,258.23],"nice":false},"axis":null}}},
{"data":{"values":[{"i":-0.98,"i2":152.75,"p":258.4,"p2":103.6}]},"mark":{"type":"rect","fill":null,"stroke":"#f0f3f5","strokeWidth":2},
"encoding":{"x2":{"field":"i2"},"y":{"field":"p","type":"quantitative","scale":{"type":"log","domain":[107.76,258.23],"nice":false},"axis":null},"y2":{"field":"p2"}}},
{"data":{"values":[{"i":146.14,"p":258.4,"p2":103.6}]},"mark":{"type":"rule","color":"#4a4a4a","strokeWidth":1.2},
"encoding":{"y":{"field":"p","type":"quantitative","scale":{"type":"log","domain":[107.76,258.23],"nice":false},"axis":null},"y2":{"field":"p2"}}},
{"data":{"values":[{"i":-0.93,"i2":152.6,"p":107.76}]},"mark":{"type":"rule","color":"#4a4a4a","strokeWidth":1.2},
"encoding":{"x2":{"field":"i2"},"y":{"field":"p","type":"quantitative","scale":{"type":"log","domain":[107.76,258.23],"nice":false},"axis":null}}},
{"data":{"name":"labels"},"mark":{"type":"text","align":"left","baseline":"middle","font":"Lato"},
"encoding":{"y":{"field":"p","type":"quantitative","scale":{"type":"log","domain":[107.76,258.23],"nice":false},"axis":null},"text":{"field":"t"},
"size":{"field":"k","type":"nominal","scale":{"domain":["head","ink","muted","up","vol","ma50","ma200"],"range":[15,14,15,14,14,14,14]},"legend":null},
"color":{"field":"k","type":"nominal","scale":{"domain":["head","ink","muted","up","vol","ma50","ma200"],"range":["#222222","#111111","#666666","#4cb58a","#26a69a","#f23645","#2962ff"]},"legend":null}}},
{"data":{"values":[{"i":1.05,"p":99.3}]},"mark":{"type":"point","shape":"M-1,-0.5 H-0.12 V0.5 H-0.55 V-0.05 H-1 Z M0.33,-0.27 A0.23,0.23 0 1 1 -0.13,-0.27 A0.23,0.23 0 1 1 0.33,-0.27 Z M0.5,-0.5 H1 L0.5,0.5 H0 Z","fill":"#131722","stroke":null,"size":1369,"opacity":1},
"encoding":{"y":{"field":"p","type":"quantitative","scale":{"type":"log","domain":[107.76,258.23],"nice":false},"axis":null}}},
{"data":{"values":[{"i":3.96,"p":99.3,"t":"TradingView"}]},"mark":{"type":"text","align":"left","baseline":"middle","font":"Inter","fontWeight":"bold","fontSize":24.5,"color":"#131722"},
"encoding":{"y":{"field":"p","type":"quantitative","scale":{"type":"log","domain":[107.76,258.23],"nice":false},"axis":null},"text":{"field":"t"}}}
],"resolve":{"scale":{"color":"independent"}}}
],
"resolve":{"scale":{"y":"independent","color":"independent"}}
}
